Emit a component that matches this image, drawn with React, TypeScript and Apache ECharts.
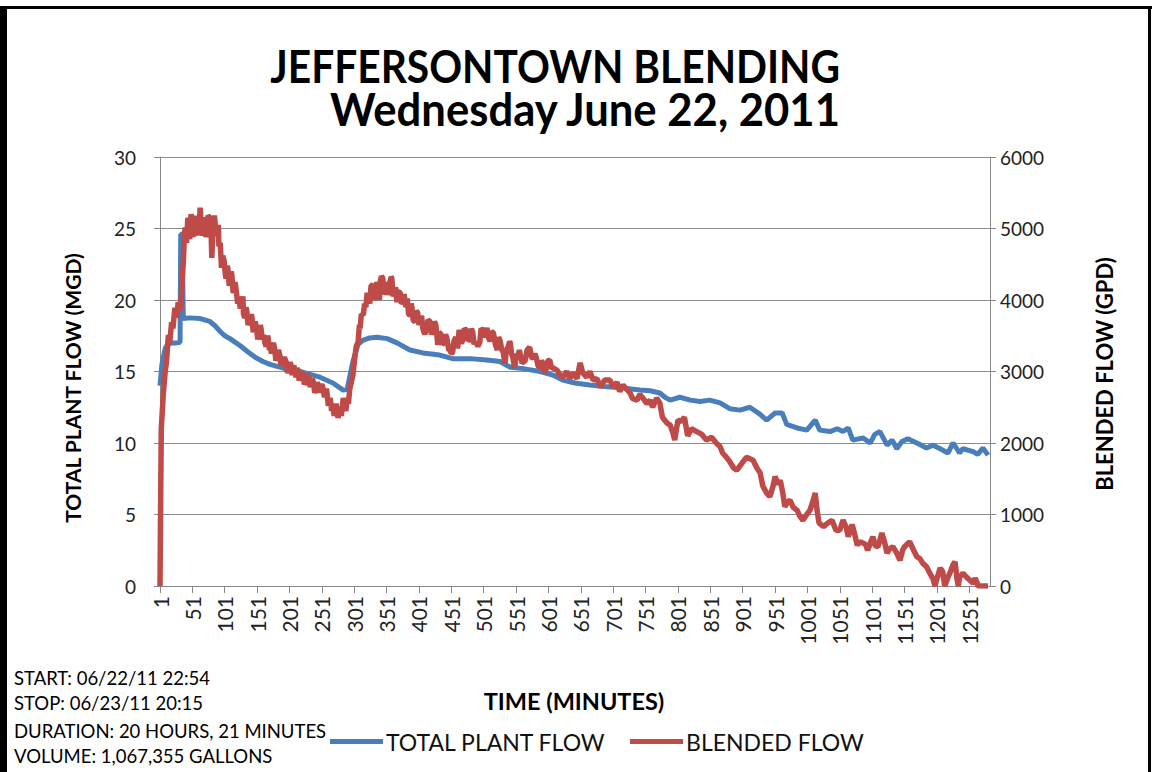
import React, { useEffect, useRef } from "react";
import * as echarts from "echarts";

// [minute, MGD]
const plantFlow: [number, number][] = [
  [1, 14.0], [4, 15.5], [9, 16.6], [13, 16.9], [19, 17.0], [26, 17.0], [32, 17.05],
  [33, 24.6], [35, 24.6], [37, 18.7], [47, 18.75], [63, 18.7], [78, 18.5], [86, 18.2],
  [94, 17.8], [101, 17.5], [109, 17.3], [125, 16.8], [136, 16.4], [148, 16.0], [160, 15.7],
  [171, 15.5], [186, 15.3], [202, 15.1], [217, 15.0], [233, 14.8], [248, 14.6], [268, 14.2],
  [284, 13.7], [290, 13.75], [299, 15.7], [307, 16.9], [315, 17.2], [325, 17.35], [336, 17.4],
  [352, 17.3], [367, 17.0], [387, 16.5], [407, 16.3], [433, 16.15], [453, 15.9], [480, 15.9],
  [506, 15.8], [526, 15.7], [542, 15.3], [562, 15.2], [588, 15.0], [608, 14.75], [623, 14.4],
  [642, 14.2], [665, 14.05], [688, 13.95], [716, 13.85], [742, 13.7], [758, 13.65], [773, 13.5],
  [781, 13.2], [789, 13.0], [804, 13.2], [820, 13.0], [835, 12.9], [850, 13.0], [866, 12.8],
  [881, 12.4], [897, 12.3], [912, 12.5], [928, 12.0], [938, 11.6], [951, 12.1], [962, 12.1],
  [969, 11.3], [985, 11.05], [1000, 10.9], [1013, 11.6], [1020, 10.9], [1036, 10.8], [1047, 11.0],
  [1056, 10.8], [1064, 11.05], [1071, 10.2], [1087, 10.35], [1098, 10.0], [1105, 10.6], [1113, 10.8],
  [1124, 9.85], [1132, 10.2], [1139, 9.6], [1147, 10.1], [1156, 10.3], [1170, 10.0], [1185, 9.65],
  [1195, 9.85], [1206, 9.6], [1218, 9.3], [1226, 10.0], [1236, 9.3], [1241, 9.6], [1257, 9.4],
  [1264, 9.2], [1272, 9.65], [1280, 9.15],
];

// [minute, GPD]
const blendedFlow: [number, number][] = [
  [1, 0], [2, 1200], [3, 2200], [6, 2670], [9, 3000], [11, 3130], [14, 3510], [16, 3400],
  [19, 3690], [21, 3600], [24, 3890], [27, 3750], [29, 3970], [32, 3850], [34, 4070],
  [37, 4530], [39, 4950], [40, 5010], [42, 4800], [44, 5150], [45, 5090], [47, 4850], [49, 5200],
  [50, 5150], [52, 4880], [54, 5180], [55, 5100], [57, 4900], [59, 5150], [61, 4950], [63, 5290],
  [65, 5000], [66, 4900], [68, 5150], [70, 5100], [72, 4880], [73, 4950], [75, 5180], [78, 5150],
  [80, 4950], [81, 4590], [83, 5000], [85, 5180], [86, 5090], [88, 4900], [89, 4950], [91, 5050],
  [92, 4750], [94, 4800], [96, 4450], [98, 4620], [100, 4550], [102, 4350], [103, 4300], [105, 4480],
  [106, 4420], [108, 4200], [109, 4250], [111, 4400], [112, 4350], [114, 4100], [115, 4120], [117, 4250],
  [119, 4110], [121, 3950], [123, 4050], [125, 3880], [127, 3930], [129, 4050], [130, 3800], [132, 3750],
  [134, 3900], [135, 3850], [137, 3650], [140, 3720], [142, 3800], [143, 3760], [145, 3550], [146, 3600],
  [148, 3700], [150, 3610], [152, 3450], [154, 3520], [156, 3650], [157, 3600], [159, 3450], [161, 3510],
  [163, 3400], [165, 3350], [167, 3500], [168, 3470], [170, 3300], [171, 3410], [173, 3250], [174, 3300],
  [176, 3400], [178, 3330], [180, 3150], [182, 3220], [184, 3300], [186, 3230], [188, 3080], [191, 3150],
  [193, 3200], [196, 3130], [198, 2980], [200, 3020], [202, 3130], [203, 3100], [205, 2950], [206, 3050],
  [208, 3080], [211, 2920], [213, 3050], [214, 3020], [216, 2870], [217, 2920], [219, 3000], [222, 2950],
  [224, 2820], [226, 2850], [228, 2970], [231, 2920], [233, 2780], [234, 2820], [236, 2900], [238, 2850],
  [240, 2700], [242, 2760], [244, 2850], [245, 2820], [247, 2700], [248, 2770], [251, 2820], [253, 2760],
  [255, 2640], [256, 2680], [258, 2760], [259, 2700], [261, 2520], [262, 2560], [264, 2630], [266, 2450],
  [268, 2520], [270, 2380], [271, 2420], [273, 2550], [276, 2350], [278, 2450], [279, 2500], [281, 2380],
  [284, 2630], [286, 2500], [288, 2450], [290, 2600], [292, 2550], [294, 2750],
  [299, 2950], [302, 3200], [304, 3350], [307, 3410], [309, 3650], [310, 3600], [312, 3800], [315, 3790],
  [317, 3950], [319, 3900], [321, 4100], [323, 4030], [325, 3950], [327, 4200], [330, 4210], [332, 4000],
  [333, 4050], [336, 4250], [338, 4110], [340, 4000], [341, 4250], [343, 4330], [345, 4310], [347, 4080],
  [348, 4100], [351, 4250], [353, 4070], [355, 4150], [356, 4250], [358, 4320], [359, 4310], [361, 4050],
  [362, 4050], [365, 4180], [367, 3970], [369, 4120], [372, 4100], [374, 3950], [376, 3970], [378, 4080],
  [381, 3900], [383, 4020], [385, 3800], [387, 3790], [389, 3950], [390, 3900], [392, 3720], [395, 3690],
  [397, 3850], [399, 3820], [401, 3650], [403, 3720], [405, 3780], [407, 3600], [410, 3520], [413, 3610],
  [415, 3720], [418, 3700], [420, 3520], [422, 3560], [425, 3700], [427, 3650], [429, 3480], [430, 3370],
  [432, 3550], [435, 3520], [437, 3380], [440, 3400], [442, 3520], [444, 3470], [447, 3300], [449, 3300],
  [451, 3250], [453, 3270], [455, 3420], [458, 3480], [460, 3330], [461, 3350], [463, 3580], [464, 3550],
  [466, 3400], [468, 3420], [471, 3600], [474, 3580], [477, 3430], [480, 3450], [482, 3600], [484, 3550],
  [486, 3380], [489, 3420], [492, 3350], [495, 3410], [497, 3600], [500, 3580], [503, 3480], [506, 3610],
  [508, 3480], [511, 3420], [513, 3560], [516, 3540], [519, 3380], [522, 3300], [524, 3480], [526, 3440],
  [529, 3300], [531, 3280], [533, 3150], [534, 3120], [536, 3300], [539, 3350], [541, 3420], [542, 3400],
  [544, 3250], [546, 3200], [548, 3080], [549, 3060], [551, 3240], [554, 3220], [556, 3300], [557, 3260],
  [560, 3120], [565, 3150], [568, 3300], [572, 3340], [575, 3200], [577, 3180], [580, 3250], [582, 3200],
  [585, 3080], [588, 3050], [590, 3150], [592, 3120], [595, 2980], [597, 3020], [600, 3150], [603, 3160],
  [606, 3040], [608, 3050], [614, 3020], [619, 2950], [623, 2920], [629, 3000], [634, 2900], [639, 2980],
  [645, 2900], [650, 3120], [654, 2980], [660, 2920], [665, 3000], [670, 2880], [676, 2900], [681, 2780],
  [688, 2880], [696, 2880], [701, 2780], [707, 2850], [711, 2720], [716, 2810], [722, 2750], [727, 2700],
  [731, 2620], [738, 2600], [742, 2680], [746, 2640], [753, 2550], [758, 2600], [762, 2500], [768, 2630],
  [773, 2560], [777, 2360], [784, 2280], [789, 2250], [793, 2150], [796, 2040], [801, 2320], [806, 2300],
  [811, 2360], [816, 2100], [822, 2200], [830, 2160], [838, 2120], [845, 2040], [853, 2080], [860, 2000],
  [866, 1950], [870, 1860], [876, 1800], [881, 1740], [887, 1650], [892, 1620], [900, 1720], [907, 1800],
  [912, 1780], [917, 1760], [923, 1650], [928, 1580], [932, 1400], [938, 1300], [943, 1250], [948, 1400],
  [951, 1530], [956, 1420], [959, 1480], [963, 1300], [966, 1110], [971, 1180], [974, 1200], [979, 1100],
  [985, 1060], [989, 980], [994, 920], [1000, 1000], [1005, 1060], [1010, 1200], [1013, 1300], [1016, 1050],
  [1019, 880], [1026, 830], [1031, 870], [1039, 920], [1045, 780], [1051, 780], [1056, 920], [1061, 820],
  [1064, 690], [1070, 860], [1073, 760], [1078, 570], [1082, 620], [1087, 600], [1091, 580], [1094, 500],
  [1099, 620], [1102, 690], [1106, 560], [1110, 550], [1116, 740], [1120, 620], [1124, 460], [1128, 520],
  [1133, 550], [1139, 460], [1144, 360], [1148, 500], [1151, 550], [1159, 620], [1164, 520], [1170, 410],
  [1175, 380], [1179, 320], [1185, 270], [1190, 180], [1195, 100], [1198, 0], [1201, 100], [1206, 250],
  [1210, 200], [1213, 0], [1218, 120], [1221, 180], [1226, 300], [1229, 340], [1232, 100], [1234, 0],
  [1236, 120], [1241, 180], [1247, 120], [1252, 80], [1257, 40], [1260, 110], [1263, 50], [1264, 0],
  [1272, 0], [1280, 0],
];

const titleLines = ["JEFFERSONTOWN BLENDING", "Wednesday June 22, 2011"];
const seriesNames = ["TOTAL PLANT FLOW", "BLENDED FLOW"];
const leftAxisTitle = "TOTAL PLANT FLOW (MGD)";
const rightAxisTitle = "BLENDED FLOW (GPD)";
const xAxisTitle = "TIME (MINUTES)";
const notes = [
  "START: 06/22/11 22:54",
  "STOP: 06/23/11 20:15",
  "DURATION: 20 HOURS, 21 MINUTES",
  "VOLUME: 1,067,355 GALLONS",
];
const lastMinute = 1283;

const FONT = "Lato";

export default function App() {
  const ref = useRef<HTMLDivElement>(null);
  useEffect(() => {
    if (!ref.current) return;
    const chart = echarts.init(ref.current, null, { renderer: "svg" });
    const noteY = [678, 703, 731, 756];
    const bold = (text: string, x: number, y: number, size: number, extra: any = {}) => ({
      type: "text",
      x,
      y,
      ...extra,
      style: {
        text,
        fontSize: size,
        fontWeight: "bold",
        fontFamily: FONT,
        fill: "#000",
        align: "center",
        verticalAlign: "middle",
        ...(extra.style || {}),
      },
    });
    chart.setOption({
      animation: false,
      backgroundColor: "#ffffff",
      textStyle: { fontFamily: FONT },
      grid: { left: 160, top: 157, width: 830, height: 429, containLabel: false },
      legend: {
        left: 330,
        top: 730,
        padding: 0,
        itemGap: 24,
        itemWidth: 53,
        itemHeight: 5,
        icon: "rect",
        data: seriesNames,
        textStyle: { fontSize: 23, color: "#111", fontFamily: FONT, padding: [0, 0, 0, -2] },
      },
      xAxis: {
        type: "value",
        min: 0,
        max: lastMinute - 1,
        interval: 50,
        splitLine: { show: false },
        axisLine: { show: true, lineStyle: { color: "#888", width: 1 } },
        axisTick: { show: true, inside: false, length: 7, lineStyle: { color: "#888" } },
        axisLabel: {
          rotate: 90,
          margin: 10,
          fontSize: 21,
          color: "#222",
          fontFamily: FONT,
          showMaxLabel: false,
          formatter: (v: number) => (v % 50 === 0 ? String(v + 1) : ""),
        },
      },
      yAxis: [
        {
          type: "value",
          min: 0,
          max: 30,
          interval: 5,
          axisLine: { show: true, lineStyle: { color: "#888" } },
          axisTick: { show: true, length: 6, lineStyle: { color: "#888" } },
          splitLine: { show: true, lineStyle: { color: "#8c8c8c", width: 1 } },
          axisLabel: { margin: 24, fontSize: 19, color: "#222", fontFamily: FONT },
        },
        {
          type: "value",
          min: 0,
          max: 6000,
          interval: 1000,
          position: "right",
          axisLine: { show: true, lineStyle: { color: "#888" } },
          axisTick: { show: true, length: 6, lineStyle: { color: "#888" } },
          splitLine: { show: false },
          axisLabel: {
            margin: 10,
            fontSize: 19,
            color: "#222",
            fontFamily: FONT,
            formatter: (v: number) => String(v),
          },
        },
      ],
      series: [
        {
          name: seriesNames[0],
          type: "line",
          yAxisIndex: 0,
          showSymbol: false,
          symbol: "none",
          lineStyle: { color: "#4a7ebb", width: 5 },
          itemStyle: { color: "#4a7ebb" },
          data: plantFlow.map(([m, v]) => [m - 1, v]),
        },
        {
          name: seriesNames[1],
          type: "line",
          yAxisIndex: 1,
          showSymbol: false,
          symbol: "none",
          lineStyle: { color: "#be4b48", width: 5.5 },
          itemStyle: { color: "#be4b48" },
          data: blendedFlow.map(([m, v]) => [m - 1, v]),
        },
      ],
      graphic: [
        { type: "rect", shape: { x: 0, y: 6, width: 7, height: 766 }, style: { fill: "#000" } },
        { type: "rect", shape: { x: 0, y: 6, width: 1152, height: 3 }, style: { fill: "#000" } },
        { type: "rect", shape: { x: 1148, y: 6, width: 3, height: 766 }, style: { fill: "#000" } },
        bold(titleLines[0], 840, 66, 45, {
          scaleX: 0.905,
          style: { align: "right", lineHeight: 40 },
        }),
        bold(titleLines[1], 840, 108, 45, {
          scaleX: 0.97,
          style: { align: "right", lineHeight: 40 },
        }),
        bold(leftAxisTitle, 72, 388, 21, { rotation: Math.PI / 2 }),
        bold(rightAxisTitle, 1104, 374, 22, { rotation: Math.PI / 2 }),
        bold(xAxisTitle, 574, 701, 23.5),
        ...notes.map((t, i) => ({
          type: "text",
          x: 14,
          y: noteY[i],
          style: {
            text: t,
            fontSize: 18.5,
            fontFamily: FONT,
            fill: "#000",
            align: "left",
            verticalAlign: "middle",
          },
        })),
      ],
    });
    return () => chart.dispose();
  }, []);
  return (
    <div
      ref={ref}
      style={{ position: "fixed", left: 0, top: 0, width: 1155, height: 772, background: "#fff" }}
    />
  );
}
